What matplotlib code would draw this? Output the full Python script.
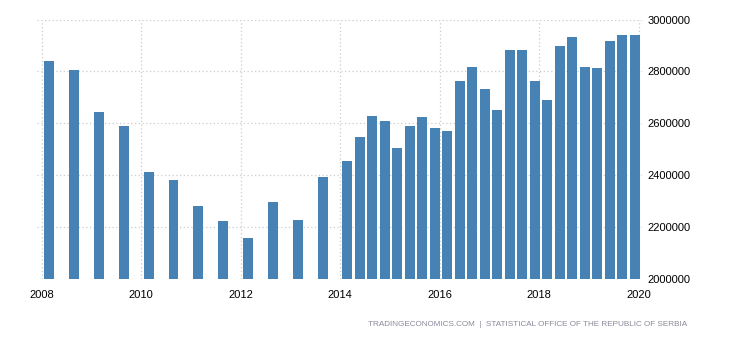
import matplotlib
matplotlib.use("Agg")
import matplotlib.pyplot as plt
import numpy as np

plt.rcParams['font.family'] = ['Liberation Sans', 'DejaVu Sans']

# Semiannual observations 2008-2013
semi_values = [2840000, 2805000, 2643000, 2590000, 2412000, 2381000,
               2281000, 2223000, 2158000, 2297000, 2227000, 2393000]
# Quarterly observations 2014-2019
quarter_values = [2455000, 2547000, 2628000, 2609000, 2505000, 2590000,
                  2624000, 2582000, 2570000, 2763000, 2817000, 2732000,
                  2651000, 2882000, 2882000, 2763000, 2690000, 2898000,
                  2932000, 2817000, 2813000, 2917000, 2940000, 2940000]

semi_x = 2008.15 + 0.5 * np.arange(len(semi_values))
quarter_x = 2014.14 + 0.2513 * np.arange(len(quarter_values))

x_ticks = [2008, 2010, 2012, 2014, 2016, 2018, 2020]
y_ticks = [2000000, 2200000, 2400000, 2600000, 2800000, 3000000]

fig = plt.figure(figsize=(7.3, 3.4), dpi=100)
ax = fig.add_axes([37/730, 1 - 279/340, (642-37)/730, (279-19.5)/340])

color = '#4682B4'
ax.bar(semi_x, semi_values, width=0.2, color=color, zorder=3)
ax.bar(quarter_x, quarter_values, width=0.2, color=color, zorder=3)

ax.set_xlim(2007.905, 2020.07)
ax.set_ylim(2000000, 3000000)
ax.set_xticks(x_ticks)
ax.set_xticklabels([str(t) for t in x_ticks])
ax.set_yticks(y_ticks)
ax.set_yticklabels([str(t) for t in y_ticks])
ax.yaxis.tick_right()

for s in ax.spines.values():
    s.set_visible(False)

ax.grid(True, color='#cccccc', linestyle=(0, (1, 2)), linewidth=0.9, zorder=0)
ax.tick_params(axis='both', length=0, labelsize=8, colors='#000000')
ax.tick_params(axis='x', pad=8)
ax.tick_params(axis='y', pad=4)

fig.text(687/730, 1 - 325/340,
         'TRADINGECONOMICS.COM  |  STATISTICAL OFFICE OF THE REPUBLIC OF SERBIA',
         ha='right', va='center', fontsize=5.9, color='#8a8a9a')

fig.savefig('out.png', dpi=100)
